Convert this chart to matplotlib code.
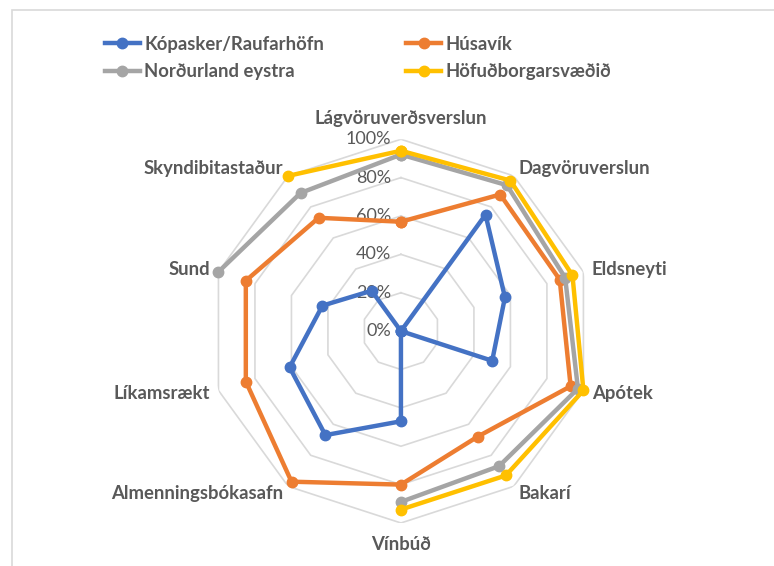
import matplotlib

matplotlib.use("Agg")
import matplotlib.pyplot as plt
import numpy as np
from matplotlib.lines import Line2D
from matplotlib.patches import Rectangle

plt.rcParams["font.family"] = ["Lato", "DejaVu Sans"]

categories = [
    "Lágvöruverðsverslun", "Dagvöruverslun", "Eldsneyti", "Apótek", "Bakarí",
    "Vínbúð", "Almenningsbókasafn", "Líkamsrækt", "Sund", "Skyndibitastaður",
]
kopasker = [0, 75, 57, 50, 0, 47, 67, 61, 43, 26]
husavik = [57, 88, 87, 93, 68, 80, 97, 85, 85, 73]
nordurland = [92, 94, 90, 97, 87, 89, np.nan, np.nan, 100, 89]
hofudborg = [94, 97, 94, 100, 93, 93, np.nan, np.nan, np.nan, 100]
series_names = ["Kópasker/Raufarhöfn", "Húsavík", "Norðurland eystra",
                "Höfuðborgarsvæðið"]
colors = ["#4472C4", "#ED7D31", "#A5A5A5", "#FFC000"]
tick_levels = [0, 20, 40, 60, 80, 100]

TXT = "#595959"
GRID = "#d9d9d9"

fig = plt.figure(figsize=(7.74, 5.66), dpi=100)
ax = fig.add_axes([0.270, 0.076, 0.496, 0.678], projection="polar")
ax.set_theta_zero_location("N")
ax.set_theta_direction(-1)
ax.set_ylim(0, 100)
ax.grid(False)
ax.spines["polar"].set_visible(False)
ax.set_xticks([])
ax.set_yticks([])
ax.patch.set_alpha(0)

n = len(categories)
theta = np.arange(n) * 2 * np.pi / n
theta_c = np.append(theta, theta[0])

# polygonal grid
for lv in tick_levels[1:]:
    ax.plot(theta_c, [lv] * (n + 1), color=GRID, lw=1.2, zorder=1)

for lv in tick_levels:
    ax.annotate(f"{lv}%", xy=(0, lv), xytext=(-7, 0), textcoords="offset points",
                ha="right", va="center", color=TXT, fontsize=13, zorder=2)

for name, vals, col in zip(series_names, [kopasker, husavik, nordurland, hofudborg],
                           colors):
    v = np.append(vals, vals[0])
    ax.plot(theta_c, v, color=col, lw=3.2, marker="o", markersize=7.5,
            label=name, zorder=3, clip_on=False)

for t, cat in zip(theta, categories):
    deg = np.degrees(t) % 360
    if np.isclose(deg, 0) or np.isclose(deg, 180):
        ax.text(t, 111, cat, ha="center", va="center", color=TXT,
                fontsize=13.3, fontweight="bold")
    elif deg < 180:
        ax.text(t, 104.5, cat, ha="left", va="center", color=TXT,
                fontsize=13.3, fontweight="bold")
    else:
        ax.text(t, 104.5, cat, ha="right", va="center", color=TXT,
                fontsize=13.3, fontweight="bold")

handles = [Line2D([], [], color=c, lw=3.2, marker="o", markersize=7.5)
           for c in colors]
order = [0, 2, 1, 3]
fig.legend([handles[i] for i in order], [series_names[i] for i in order],
           ncol=2, loc="upper left", bbox_to_anchor=(0.114, 0.966),
           frameon=False, handlelength=1.9, handletextpad=0.23,
           columnspacing=4.45, labelspacing=0.55,
           prop={"weight": "bold", "size": 13.3}, labelcolor=TXT)

fig.patches.append(Rectangle((12 / 774, -0.1), 2.0, 1.1 - 10 / 566,
                             transform=fig.transFigure, fill=False,
                             edgecolor=GRID, lw=1.2))

fig.savefig("out.png", dpi=100)
